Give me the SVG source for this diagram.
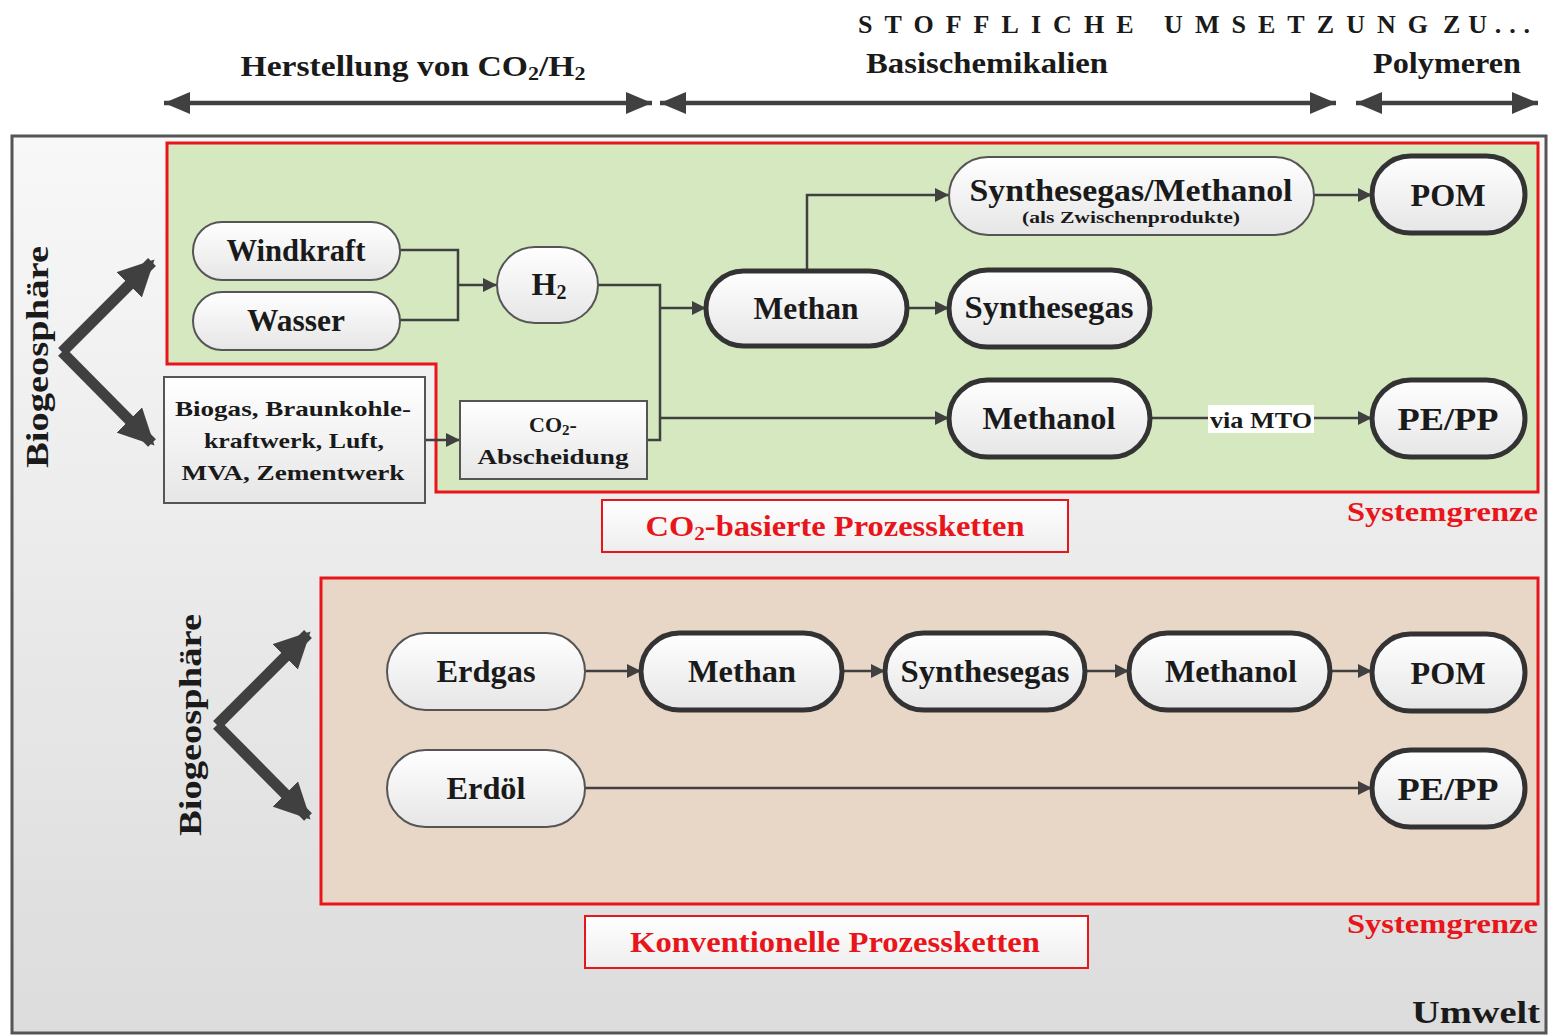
<svg xmlns="http://www.w3.org/2000/svg" width="1551" height="1036" viewBox="0 0 1551 1036">
<defs>
<linearGradient id="bg" x1="0" y1="0" x2="0" y2="1"><stop offset="0" stop-color="#f8f8f8"/><stop offset="1" stop-color="#dcdcdc"/></linearGradient>
<linearGradient id="nodeg" x1="0" y1="0" x2="0" y2="1"><stop offset="0" stop-color="#ffffff"/><stop offset="1" stop-color="#e6e6e6"/></linearGradient>
<linearGradient id="labg" x1="0" y1="0" x2="0" y2="1"><stop offset="0" stop-color="#ffffff"/><stop offset="1" stop-color="#eeeeee"/></linearGradient>
<marker id="ah" viewBox="0 0 10 10" refX="10" refY="5" markerWidth="14" markerHeight="14" markerUnits="userSpaceOnUse" orient="auto"><path d="M0,0 L10,5 L0,10 z" fill="#404040"/></marker>
<marker id="hh" viewBox="0 0 10 10" refX="10" refY="5" markerWidth="26" markerHeight="22" markerUnits="userSpaceOnUse" orient="auto" preserveAspectRatio="none"><path d="M0,0 L10,5 L0,10 z" fill="#404040"/></marker>
<marker id="hs" viewBox="0 0 10 10" refX="0" refY="5" markerWidth="26" markerHeight="22" markerUnits="userSpaceOnUse" orient="auto" preserveAspectRatio="none"><path d="M10,0 L0,5 L10,10 z" fill="#404040"/></marker>
<marker id="big" viewBox="0 0 10 10" refX="9" refY="5" markerWidth="36" markerHeight="36" markerUnits="userSpaceOnUse" orient="auto"><path d="M0,0 L10,5 L0,10 z" fill="#404040"/></marker>
</defs>
<style>
text{font-family:"Liberation Serif","Times New Roman",serif;font-weight:bold;fill:#1a1a1a}
.hdr{font-size:29px;text-anchor:middle}
.n{font-size:32px;text-anchor:middle}
.sm{font-size:22px;text-anchor:middle}
.red{fill:#e8151b}
.pill{fill:url(#nodeg);stroke:#555;stroke-width:2}
.pillb{fill:url(#nodeg);stroke:#333;stroke-width:5}
.box{fill:url(#nodeg);stroke:#555;stroke-width:2}
.c{fill:none;stroke:#404040;stroke-width:2.5}
.h{fill:none;stroke:#404040;stroke-width:4.5}
.chev{fill:none;stroke:#404040;stroke-width:11}
.lab{fill:url(#labg);stroke:#e8151b;stroke-width:2}
</style>

<g id="header">
<text y="33" font-size="26"><tspan x="858" textLength="570" lengthAdjust="spacing">STOFFLICHE UMSETZUNG</tspan><tspan x="1443" textLength="87" lengthAdjust="spacing">ZU...</tspan></text>
<text class="hdr" x="413" y="76" textLength="345" lengthAdjust="spacingAndGlyphs">Herstellung von CO<tspan font-size="19" dy="4">2</tspan><tspan dy="-4">/H</tspan><tspan font-size="19" dy="4">2</tspan></text>
<text class="hdr" x="987" y="73" textLength="242" lengthAdjust="spacingAndGlyphs">Basischemikalien</text>
<text class="hdr" x="1447" y="73" textLength="148" lengthAdjust="spacingAndGlyphs">Polymeren</text>
<line class="h" x1="164" y1="103" x2="652" y2="103" marker-start="url(#hs)" marker-end="url(#hh)"/>
<line class="h" x1="660" y1="103" x2="1336" y2="103" marker-start="url(#hs)" marker-end="url(#hh)"/>
<line class="h" x1="1356" y1="103" x2="1538" y2="103" marker-start="url(#hs)" marker-end="url(#hh)"/>
</g>

<g id="umwelt">
<rect x="12" y="136" width="1534" height="897" fill="url(#bg)" stroke="#555" stroke-width="3"/>
<text x="1540" y="1023" font-size="32" text-anchor="end" textLength="128" lengthAdjust="spacingAndGlyphs">Umwelt</text>
</g>

<g id="co2-region">
<path d="M167,143 L1538,143 L1538,492 L436,492 L436,364 L167,364 Z" fill="#d5e8bf" stroke="#e8151b" stroke-width="3"/>
<text class="red" x="1538" y="521" font-size="28" text-anchor="end" textLength="191" lengthAdjust="spacingAndGlyphs">Systemgrenze</text>
<rect class="lab" x="602" y="500" width="466" height="52"/>
<text class="red" x="835" y="536" font-size="29" text-anchor="middle" textLength="379" lengthAdjust="spacingAndGlyphs">CO<tspan font-size="19" dy="4">2</tspan><tspan dy="-4">-basierte Prozessketten</tspan></text>
</g>

<g id="conv-region">
<rect x="321" y="578" width="1217" height="326" fill="#e8d6c6" stroke="#e8151b" stroke-width="3"/>
<text class="red" x="1538" y="933" font-size="28" text-anchor="end" textLength="191" lengthAdjust="spacingAndGlyphs">Systemgrenze</text>
<rect class="lab" x="585" y="916" width="503" height="52"/>
<text class="red" x="835" y="952" font-size="29" text-anchor="middle" textLength="410" lengthAdjust="spacingAndGlyphs">Konventionelle Prozessketten</text>
</g>

<g id="biogeo1">
<text class="n" transform="translate(48,357) rotate(-90)" font-size="33" textLength="222" lengthAdjust="spacingAndGlyphs">Biogeosphäre</text>
<line class="chev" x1="62" y1="352" x2="152" y2="262" marker-end="url(#big)"/>
<line class="chev" x1="62" y1="352" x2="152" y2="443" marker-end="url(#big)"/>
</g>
<g id="biogeo2">
<text class="n" transform="translate(201,725) rotate(-90)" font-size="33" textLength="222" lengthAdjust="spacingAndGlyphs">Biogeosphäre</text>
<line class="chev" x1="217" y1="725" x2="308" y2="634" marker-end="url(#big)"/>
<line class="chev" x1="217" y1="725" x2="308" y2="817" marker-end="url(#big)"/>
</g>

<g id="connectors">
<polyline class="c" points="400,250 458,250 458,320 400,320"/>
<line class="c" x1="458" y1="285" x2="497" y2="285" marker-end="url(#ah)"/>
<polyline class="c" points="598,285 660,285 660,440 647,440"/>
<line class="c" x1="660" y1="308" x2="706" y2="308" marker-end="url(#ah)"/>
<line class="c" x1="660" y1="418" x2="949" y2="418" marker-end="url(#ah)"/>
<line class="c" x1="425" y1="440" x2="460" y2="440" marker-end="url(#ah)"/>
<polyline class="c" points="807,271 807,195 949,195" marker-end="url(#ah)"/>
<line class="c" x1="907" y1="308" x2="949" y2="308" marker-end="url(#ah)"/>
<line class="c" x1="1314" y1="195" x2="1372" y2="195" marker-end="url(#ah)"/>
<line class="c" x1="1150" y1="418" x2="1372" y2="418" marker-end="url(#ah)"/>
<line class="c" x1="585" y1="671" x2="641" y2="671" marker-end="url(#ah)"/>
<line class="c" x1="842" y1="671" x2="885" y2="671" marker-end="url(#ah)"/>
<line class="c" x1="1085" y1="671" x2="1129" y2="671" marker-end="url(#ah)"/>
<line class="c" x1="1330" y1="671" x2="1372" y2="671" marker-end="url(#ah)"/>
<line class="c" x1="585" y1="788" x2="1372" y2="788" marker-end="url(#ah)"/>
<g id="via-mto">
<rect x="1208" y="405" width="106" height="28" fill="#ffffff"/>
<text x="1261" y="428" font-size="23" text-anchor="middle" textLength="102" lengthAdjust="spacingAndGlyphs">via MTO</text>
</g>
</g>

<g id="windkraft"><rect class="pill" x="193" y="222" width="207" height="58" rx="29"/><text class="n" x="296" y="261" textLength="139" lengthAdjust="spacingAndGlyphs">Windkraft</text></g>
<g id="wasser"><rect class="pill" x="193" y="292" width="207" height="58" rx="29"/><text class="n" x="296" y="331" textLength="98" lengthAdjust="spacingAndGlyphs">Wasser</text></g>
<g id="h2"><rect class="pill" x="497" y="247" width="101" height="76" rx="38"/><text class="n" x="549" y="295">H<tspan font-size="20" dy="4">2</tspan></text></g>
<g id="quellen"><rect class="box" x="164" y="377" width="261" height="126"/>
<text class="sm" x="293" y="416" textLength="236" lengthAdjust="spacingAndGlyphs">Biogas, Braunkohle-</text>
<text class="sm" x="294" y="448" textLength="180" lengthAdjust="spacingAndGlyphs">kraftwerk, Luft,</text>
<text class="sm" x="293" y="480" textLength="223" lengthAdjust="spacingAndGlyphs">MVA, Zementwerk</text></g>
<g id="co2-abscheidung"><rect class="box" x="460" y="401" width="187" height="78"/>
<text class="sm" x="553" y="432">CO<tspan font-size="15" dy="3">2</tspan><tspan dy="-3">-</tspan></text>
<text class="sm" x="553" y="464" textLength="151" lengthAdjust="spacingAndGlyphs">Abscheidung</text></g>
<g id="methan1"><rect class="pillb" x="706" y="271" width="201" height="75" rx="37.5"/><text class="n" x="806" y="319" textLength="105" lengthAdjust="spacingAndGlyphs">Methan</text></g>
<g id="synmeth"><rect class="pill" x="949" y="157" width="365" height="78" rx="39"/>
<text class="n" x="1131" y="201" textLength="323" lengthAdjust="spacingAndGlyphs">Synthesegas/Methanol</text>
<text x="1131" y="223" font-size="17" text-anchor="middle" textLength="218" lengthAdjust="spacingAndGlyphs">(als Zwischenprodukte)</text></g>
<g id="synthesegas1"><rect class="pillb" x="949" y="270" width="201" height="77" rx="38.5"/><text class="n" x="1049" y="318" textLength="169" lengthAdjust="spacingAndGlyphs">Synthesegas</text></g>
<g id="methanol1"><rect class="pillb" x="949" y="380" width="201" height="77" rx="38.5"/><text class="n" x="1049" y="429" textLength="133" lengthAdjust="spacingAndGlyphs">Methanol</text></g>
<g id="pom1"><rect class="pillb" x="1372" y="156" width="153" height="77" rx="38.5"/><text class="n" x="1448" y="206" textLength="75" lengthAdjust="spacingAndGlyphs">POM</text></g>
<g id="pepp1"><rect class="pillb" x="1372" y="380" width="153" height="77" rx="38.5"/><text class="n" x="1448" y="430" textLength="101" lengthAdjust="spacingAndGlyphs">PE/PP</text></g>

<g id="erdgas"><rect class="pill" x="387" y="633" width="198" height="77" rx="38.5"/><text class="n" x="486" y="682" textLength="99" lengthAdjust="spacingAndGlyphs">Erdgas</text></g>
<g id="methan2"><rect class="pillb" x="641" y="633" width="201" height="77" rx="38.5"/><text class="n" x="742" y="682" textLength="108" lengthAdjust="spacingAndGlyphs">Methan</text></g>
<g id="synthesegas2"><rect class="pillb" x="885" y="633" width="200" height="77" rx="38.5"/><text class="n" x="985" y="682" textLength="169" lengthAdjust="spacingAndGlyphs">Synthesegas</text></g>
<g id="methanol2"><rect class="pillb" x="1129" y="633" width="201" height="77" rx="38.5"/><text class="n" x="1231" y="682" textLength="132" lengthAdjust="spacingAndGlyphs">Methanol</text></g>
<g id="pom2"><rect class="pillb" x="1372" y="634" width="153" height="77" rx="38.5"/><text class="n" x="1448" y="684" textLength="75" lengthAdjust="spacingAndGlyphs">POM</text></g>
<g id="erdoel"><rect class="pill" x="387" y="750" width="198" height="77" rx="38.5"/><text class="n" x="486" y="799" textLength="79" lengthAdjust="spacingAndGlyphs">Erdöl</text></g>
<g id="pepp2"><rect class="pillb" x="1372" y="750" width="153" height="77" rx="38.5"/><text class="n" x="1448" y="800" textLength="101" lengthAdjust="spacingAndGlyphs">PE/PP</text></g>
</svg>
